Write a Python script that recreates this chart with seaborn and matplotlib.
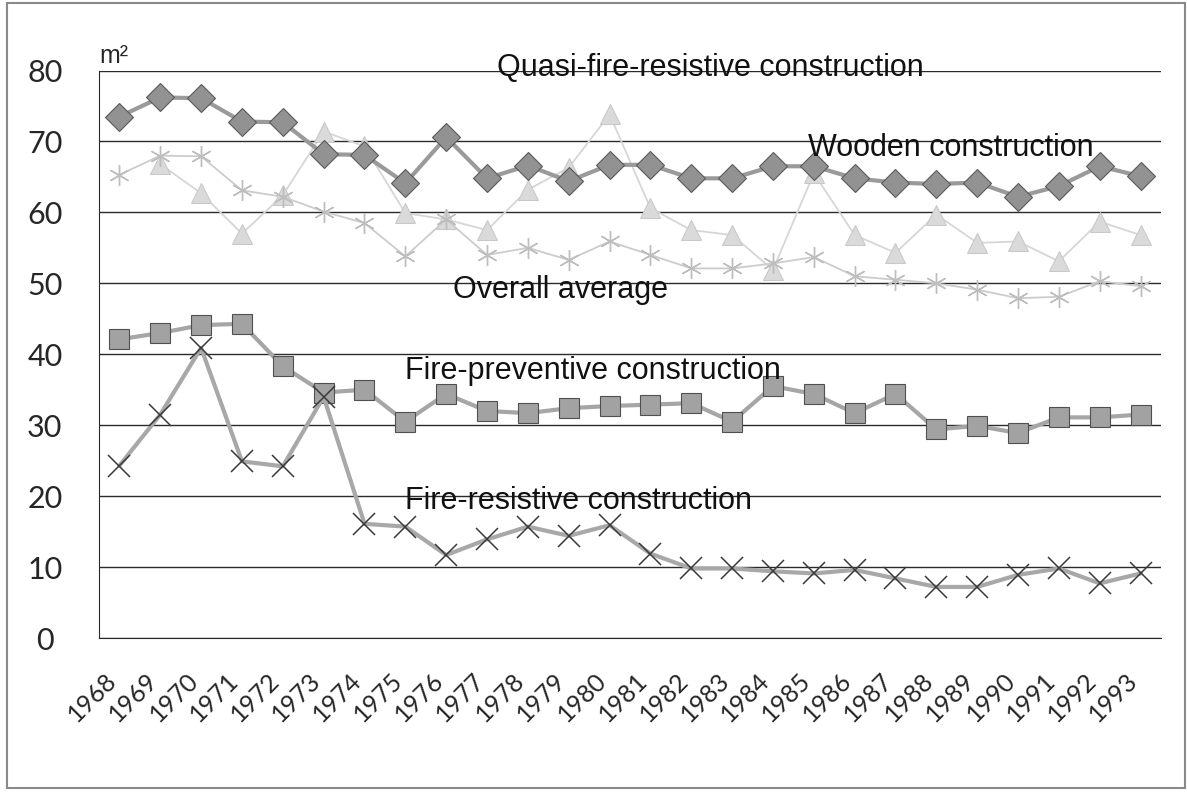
import numpy as np
import pandas as pd
import matplotlib
matplotlib.use("Agg")
import matplotlib.pyplot as plt
import matplotlib.transforms as mtransforms
from matplotlib.patches import Rectangle
import seaborn as sns

sns.set_style("white")
plt.rcParams["font.family"] = ["Liberation Sans", "DejaVu Sans"]

# data (m2 per building)
years = list(range(1968, 1994))
wooden = [73.5, 76.2, 76.1, 72.8, 72.7, 68.2, 68.1, 64.1, 70.6, 64.8, 66.6, 64.4, 66.7,
          66.7, 64.8, 64.8, 66.5, 66.5, 64.8, 64.2, 64.0, 64.2, 62.2, 63.7, 66.5, 65.1]
quasi = [np.nan, 66.8, 62.7, 57.0, 62.4, 71.4, 69.3, 59.9, 59.0, 57.5, 63.2, 66.3, 73.8,
         60.6, 57.5, 56.8, 51.9, 65.5, 56.8, 54.3, 59.7, 55.7, 55.9, 53.1, 58.7, 56.8]
overall = [65.3, 68.0, 67.9, 63.1, 62.2, 60.1, 58.5, 53.8, 59.0, 54.0, 55.0, 53.3, 55.9,
           54.0, 52.1, 52.1, 52.8, 53.7, 51.0, 50.5, 50.0, 49.1, 47.9, 48.1, 50.3, 49.6]
fire_prev = [42.1, 43.0, 44.1, 44.3, 38.3, 34.6, 35.0, 30.5, 34.4, 32.0, 31.7, 32.4, 32.7,
             32.9, 33.1, 30.5, 35.5, 34.4, 31.7, 34.4, 29.4, 29.9, 28.9, 31.1, 31.1, 31.5]
fire_res = [24.3, 31.5, 40.9, 24.9, 24.2, 34.0, 16.1, 15.7, 11.7, 13.9, 15.7, 14.4, 15.9,
            11.9, 9.8, 9.8, 9.4, 9.1, 9.6, 8.4, 7.2, 7.2, 8.9, 9.8, 7.7, 9.1]

df = pd.DataFrame({"year": years, "wooden": wooden, "quasi": quasi, "overall": overall,
                   "fire_prev": fire_prev, "fire_res": fire_res})

fig = plt.figure(figsize=(11.87, 8.0), dpi=100)
ax = fig.add_axes([99 / 1187, 162 / 800, 1062 / 1187, 567.5 / 800])

# light series first, they sit behind the others
sns.lineplot(data=df, x="year", y="quasi", ax=ax, color="#d6d6d6", lw=1.3,
             marker="^", markersize=14, markerfacecolor="#dadada", markeredgecolor="#c8c8c8")
sns.lineplot(data=df, x="year", y="overall", ax=ax, color="#cccccc", lw=1.3,
             marker=(6, 2, 0), markersize=15, markeredgecolor="#bdbdbd", markeredgewidth=1.0)
sns.lineplot(data=df, x="year", y="wooden", ax=ax, color="#9a9a9a", lw=3,
             marker="D", markersize=14, markerfacecolor="#929292", markeredgecolor="#5a5a5a",
             markeredgewidth=0.8)
sns.lineplot(data=df, x="year", y="fire_prev", ax=ax, color="#a6a6a6", lw=3,
             marker="s", markersize=15, markerfacecolor="#a2a2a2", markeredgecolor="#505050",
             markeredgewidth=0.8)
sns.lineplot(data=df, x="year", y="fire_res", ax=ax, color="#a8a8a8", lw=3,
             marker="x", markersize=16, markeredgecolor="#3a3a3a", markeredgewidth=1.1)

ax.set_xlim(1967.5, 1993.5)
ax.set_ylim(0, 80)
ax.set_yticks(np.arange(0, 81, 10))
ax.set_xticks(years)
ax.set_xticklabels([str(y) for y in years], rotation=45, ha="right", va="top",
                   rotation_mode="anchor", family=["Lato", "DejaVu Sans"], fontsize=18)
ax.set_yticklabels([str(v) for v in range(0, 81, 10)], family=["Lato", "DejaVu Sans"],
                   fontsize=22, ha="center")
ax.tick_params(axis="y", length=0, pad=39)
ax.tick_params(axis="x", length=0, pad=22)
shift = mtransforms.ScaledTranslation(-15 / 100, 0, fig.dpi_scale_trans)
for lab in ax.get_xticklabels():
    lab.set_transform(lab.get_transform() + shift)

ax.set_xlabel("")
ax.set_ylabel("")
ax.yaxis.grid(True, color="#2a2a2a", lw=1.0)
ax.set_axisbelow(True)
for side in ["top", "right"]:
    ax.spines[side].set_visible(False)
ax.spines["left"].set_color("#2a2a2a")
ax.spines["bottom"].set_color("#2a2a2a")

# series names written on the chart
txt = dict(fontsize=22, color="#111111", va="baseline", ha="left")
ax.text(1977.24, 79.2, "Quasi-fire-resistive construction", **txt)
ax.text(1984.86, 68.0, "Wooden construction", **txt)
ax.text(1976.17, 47.9, "Overall average", **txt)
ax.text(1974.99, 36.5, "Fire-preventive construction", **txt)
ax.text(1974.99, 18.15, "Fire-resistive construction", **txt)
ax.text(0.0, 81.0, "m\u00b2", transform=ax.get_yaxis_transform(), fontsize=18,
        ha="left", va="baseline")

fig.patches.append(Rectangle((7 / 1187, 12 / 800), 1178 / 1187, 785 / 800,
                             transform=fig.transFigure, fill=False, ec="#8a8a8a", lw=1.5))

fig.savefig("out.png", dpi=100)
